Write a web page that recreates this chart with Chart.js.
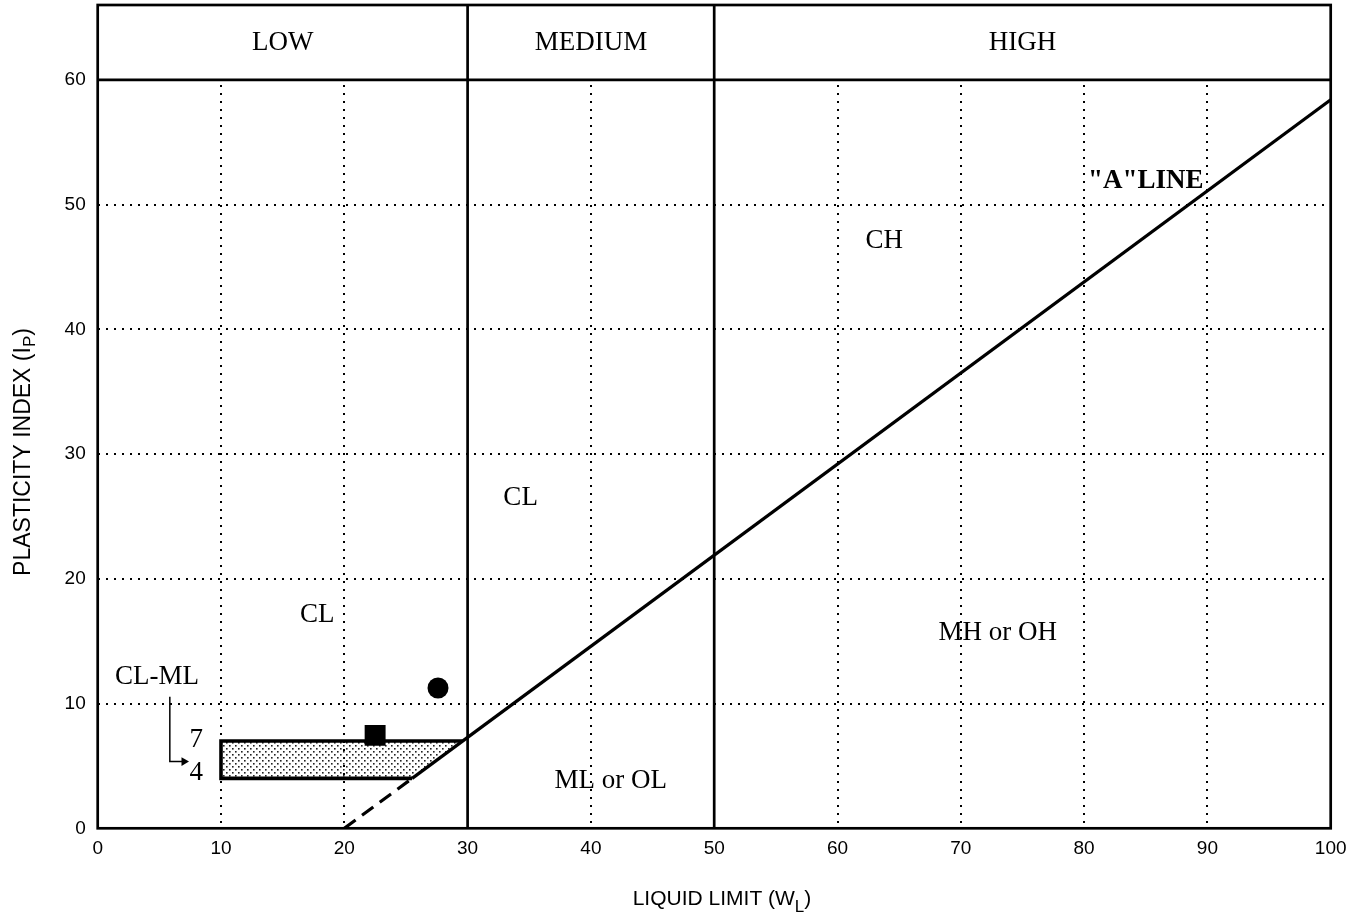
<!DOCTYPE html>
<html>
<head>
<meta charset="utf-8">
<script src="https://cdn.jsdelivr.net/npm/chart.js@4.4.0/dist/chart.umd.min.js"></script>
<style>
  html, body { margin: 0; padding: 0; background: #fff; }
  #wrap { width: 1366px; height: 915px; }
</style>
</head>
<body>
<div id="wrap"><canvas id="plasticity" width="1366" height="915"></canvas></div>
<script>
// --- data ---
var xTickValues = [0, 10, 20, 30, 40, 50, 60, 70, 80, 90, 100];
var yTickValues = [0, 10, 20, 30, 40, 50, 60];
var zoneBounds = [30, 50];
var zoneNames = ['LOW', 'MEDIUM', 'HIGH'];
var zoneCenters = [15, 40, 75];
var headerLevel = 60;
var yTop = 66;

var aLineSolid = [{x: 25.5, y: 4}, {x: 100, y: 58.4}];
var aLineDashed = [{x: 20, y: 0}, {x: 25.5, y: 4}];
var clmlOutline = [{x: 25.5, y: 4}, {x: 10, y: 4}, {x: 10, y: 7}, {x: 29.6, y: 7}];
var clmlShade = [{x: 10, y: 4}, {x: 10, y: 7}, {x: 29.6, y: 7}, {x: 25.5, y: 4}];
var circleSample = [{x: 27.6, y: 11.25}];
var squareSample = [{x: 22.5, y: 7.45}];
var arrowPath = [{x: 5.85, y: 10.55}, {x: 5.85, y: 5.35}, {x: 7.0, y: 5.35}];

var regionLabels = [
    {text: 'CL', x: 17.8, y: 17.1},
    {text: 'CL', x: 34.3, y: 26.5},
    {text: 'CH', x: 63.8, y: 47.1},
    {text: 'MH or OH', x: 73.0, y: 15.7},
    {text: 'ML or OL', x: 41.6, y: 3.8},
    {text: 'CL-ML', x: 4.8, y: 12.1},
    {text: '7', x: 8.0, y: 7.1},
    {text: '4', x: 8.0, y: 4.45}
];
var aLineLabel = {text: '"A"LINE', x: 85.0, y: 51.9};

var SERIF = '"Liberation Serif", "Times New Roman", serif';
var SANS = '"Liberation Sans", Arial, sans-serif';

// dotted shading for the CL-ML band
var tile = document.createElement('canvas');
tile.width = 6; tile.height = 6;
var tctx = tile.getContext('2d');
tctx.fillStyle = '#222';
tctx.fillRect(1, 1, 1.6, 1.6);
tctx.fillRect(4, 4, 1.6, 1.6);

var dotted = [2, 6];
var gridXShown = [10, 20, 40, 60, 70, 80, 90];
var gridYShown = [10, 20, 30, 40, 50];

function line(data, width, dash) {
    return {
        data: data, showLine: true, borderColor: '#000', borderWidth: width,
        borderDash: dash || [], pointRadius: 0, fill: false, tension: 0
    };
}

var decor = {
    id: 'decor',
    beforeDatasetsDraw: function (chart) {
        var c = chart.ctx, xs = chart.scales.x, ys = chart.scales.y, a = chart.chartArea;
        // white header band hides grid above 60
        c.save();
        c.fillStyle = '#fff';
        c.fillRect(a.left, a.top, a.right - a.left, ys.getPixelForValue(headerLevel) - a.top);
        // shaded CL-ML band
        c.beginPath();
        clmlShade.forEach(function (p, i) {
            var px = xs.getPixelForValue(p.x), py = ys.getPixelForValue(p.y);
            if (i === 0) c.moveTo(px, py); else c.lineTo(px, py);
        });
        c.closePath();
        c.fillStyle = c.createPattern(tile, 'repeat');
        c.fill();
        c.restore();
    },
    afterDatasetsDraw: function (chart) {
        var c = chart.ctx, xs = chart.scales.x, ys = chart.scales.y, a = chart.chartArea;
        c.save();
        c.strokeStyle = '#000';
        c.lineWidth = 2.7;
        c.strokeRect(a.left, a.top, a.right - a.left, a.bottom - a.top);

        c.fillStyle = '#000';
        c.textAlign = 'center';
        c.textBaseline = 'middle';
        c.font = '27px ' + SERIF;
        zoneNames.forEach(function (n, i) {
            c.fillText(n, xs.getPixelForValue(zoneCenters[i]), ys.getPixelForValue(63));
        });
        regionLabels.forEach(function (l) {
            c.fillText(l.text, xs.getPixelForValue(l.x), ys.getPixelForValue(l.y));
        });
        c.font = 'bold 27px ' + SERIF;
        c.fillText(aLineLabel.text, xs.getPixelForValue(aLineLabel.x), ys.getPixelForValue(aLineLabel.y));

        // x axis title with subscript
        c.textAlign = 'left';
        c.textBaseline = 'alphabetic';
        c.font = '21px ' + SANS;
        var t1 = 'LIQUID LIMIT (W', t2 = 'L', t3 = ')';
        var w1 = c.measureText(t1).width;
        c.font = '17px ' + SANS;
        var w2 = c.measureText(t2).width;
        c.font = '21px ' + SANS;
        var w3 = c.measureText(t3).width;
        var x0 = 722 - (w1 + w2 + w3) / 2, base = 905;
        c.fillText(t1, x0, base);
        c.font = '17px ' + SANS;
        c.fillText(t2, x0 + w1, base + 7);
        c.font = '21px ' + SANS;
        c.fillText(t3, x0 + w1 + w2, base);

        // y axis title with subscript
        c.translate(30, 452);
        c.rotate(-Math.PI / 2);
        c.font = '23px ' + SANS;
        var s1 = 'PLASTICITY INDEX (I', s2 = 'P', s3 = ')';
        var v1 = c.measureText(s1).width;
        c.font = '17px ' + SANS;
        var v2 = c.measureText(s2).width;
        c.font = '23px ' + SANS;
        var v3 = c.measureText(s3).width;
        var y0 = -(v1 + v2 + v3) / 2;
        c.fillText(s1, y0, 0);
        c.font = '17px ' + SANS;
        c.fillText(s2, y0 + v1, 5);
        c.font = '23px ' + SANS;
        c.fillText(s3, y0 + v1 + v2, 0);
        c.restore();
    }
};

new Chart(document.getElementById('plasticity'), {
    type: 'scatter',
    data: {
        datasets: [
            line([{x: zoneBounds[0], y: 0}, {x: zoneBounds[0], y: yTop}], 2.7),
            line([{x: zoneBounds[1], y: 0}, {x: zoneBounds[1], y: yTop}], 2.7),
            line([{x: 0, y: headerLevel}, {x: 100, y: headerLevel}], 2.7),
            line(aLineSolid, 3.2),
            line(aLineDashed, 3.2, [14, 8]),
            line(clmlOutline, 3.6),
            {
                data: arrowPath, showLine: true, borderColor: '#000', borderWidth: 1.5,
                pointRadius: [0, 0, 5], pointStyle: 'triangle', pointRotation: 90,
                pointBackgroundColor: '#000', pointBorderColor: '#000', pointBorderWidth: 0
            },
            {data: circleSample, pointStyle: 'circle', pointRadius: 10.5,
             pointBackgroundColor: '#000', pointBorderColor: '#000', pointBorderWidth: 0},
            {data: squareSample, pointStyle: 'rect', pointRadius: 14.8,
             pointBackgroundColor: '#000', pointBorderColor: '#000', pointBorderWidth: 0}
        ]
    },
    options: {
        responsive: false,
        animation: false,
        devicePixelRatio: 1,
        layout: {autoPadding: false, padding: {top: 5, right: 35.3, left: 0, bottom: 0}},
        plugins: {legend: {display: false}, tooltip: {enabled: false}},
        scales: {
            x: {
                type: 'linear', min: 0, max: 100,
                afterFit: function (s) { s.height = 86.7; s.paddingLeft = 0; s.paddingRight = 0; },
                afterBuildTicks: function (s) { s.ticks = xTickValues.map(function (v) { return {value: v}; }); },
                ticks: {color: '#000', font: {family: SANS, size: 19}, padding: 9},
                grid: {
                    drawTicks: false, lineWidth: 2,
                    color: function (ctx) { return gridXShown.indexOf(ctx.tick && ctx.tick.value) >= 0 ? '#000' : 'rgba(0,0,0,0)'; }
                },
                border: {display: false, dash: dotted}
            },
            y: {
                type: 'linear', min: 0, max: yTop,
                afterFit: function (s) { s.width = 97.7; s.paddingTop = 0; s.paddingBottom = 0; },
                afterBuildTicks: function (s) { s.ticks = yTickValues.map(function (v) { return {value: v}; }); },
                ticks: {color: '#000', font: {family: SANS, size: 19}, padding: 12},
                grid: {
                    drawTicks: false, lineWidth: 2,
                    color: function (ctx) { return gridYShown.indexOf(ctx.tick && ctx.tick.value) >= 0 ? '#000' : 'rgba(0,0,0,0)'; }
                },
                border: {display: false, dash: dotted}
            }
        }
    },
    plugins: [decor]
});
</script>
</body>
</html>
